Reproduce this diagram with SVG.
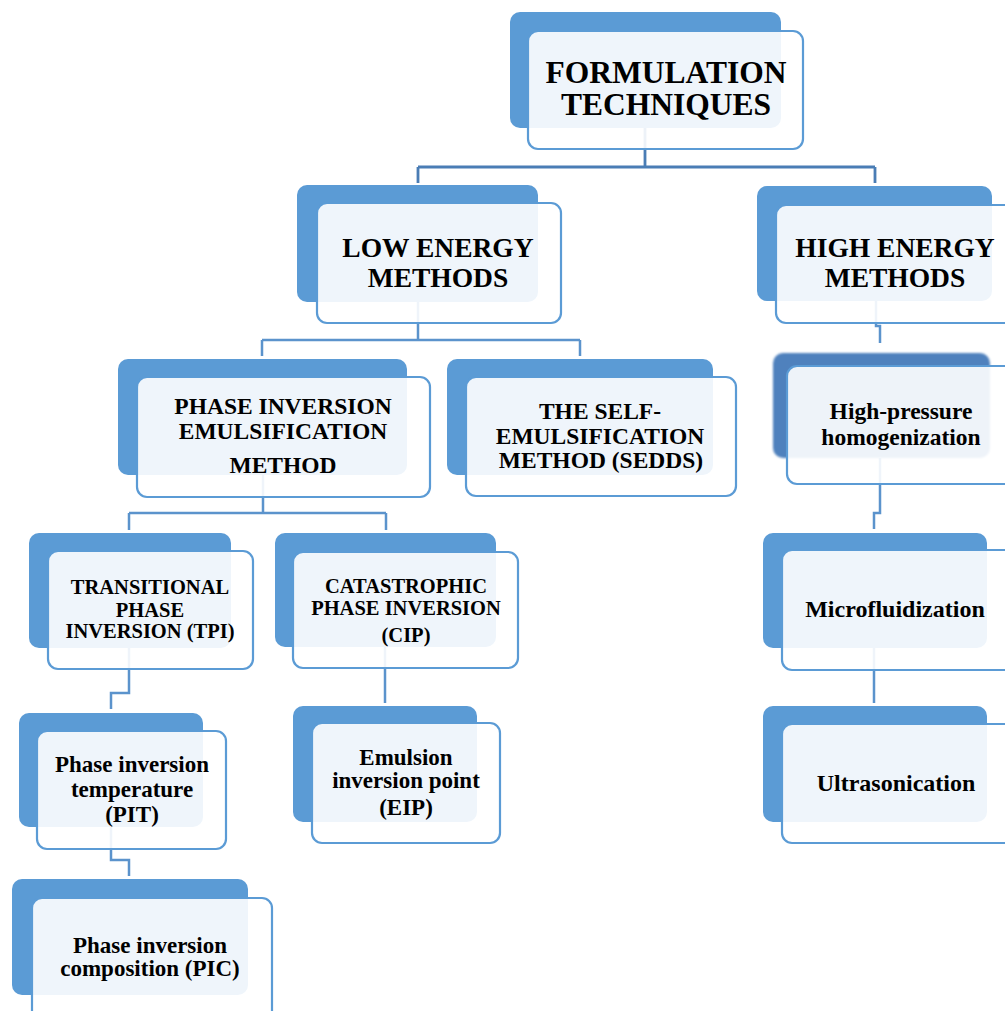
<svg xmlns="http://www.w3.org/2000/svg" width="1005" height="1011" viewBox="0 0 1005 1011">
<defs>
<style>
.bk{fill:#5b9bd5;}
.bk2{fill:#4f81bd;}
.fr{fill:#ffffff;fill-opacity:0.9;stroke:#5b9bd5;stroke-width:2.2;}
.cn{fill:none;stroke:#5b93cc;stroke-width:2.5;}
.cd{fill:none;stroke:#4a7db5;stroke-width:2.8;}
text{font-family:"Liberation Serif","Times New Roman",serif;font-weight:bold;fill:#000;text-anchor:middle;}
.t31{font-size:31.5px;}
.t27{font-size:27.5px;}
.t23{font-size:23.5px;}
.t20{font-size:20.5px;}
.t24{font-size:24px;}
.s23{font-size:23px;}
</style>
<filter id="sh" x="-10%" y="-10%" width="120%" height="120%">
<feGaussianBlur in="SourceGraphic" stdDeviation="1.2"/>
</filter>
</defs>
<rect width="1005" height="1011" fill="#ffffff"/>
<g id="connectors">
<path class="cd" d="M645 128 V167 M418 167 H875 M418 167 V183 M875 167 V183"/>
<path class="cn" d="M418 302 V340 M262 340 H580 M262 340 V356 M580 340 V356"/>
<path class="cn" d="M876 301 V326 H880 V343"/>
<path class="cn" d="M263 475 V513 M129 513 H386 M129 513 V530 M386 513 V530"/>
<path class="cn" d="M880 458 V513 H874 V529"/>
<path class="cn" d="M874 648 V703"/>
<path class="cn" d="M129 648 V693 H111 V709"/>
<path class="cn" d="M385 647 V703"/>
<path class="cn" d="M111 827 V860 H129 V876"/>
</g>
<g id="n-formulation">
<rect class="bk" x="510" y="12" width="271" height="116" rx="10"/>
<rect class="fr" x="528" y="31" width="275" height="118" rx="10"/>
<text class="t31" x="666" y="83">FORMULATION</text>
<text class="t31" x="666" y="115">TECHNIQUES</text>
</g>
<g id="n-low">
<rect class="bk" x="297" y="185" width="241" height="117" rx="10"/>
<rect class="fr" x="317" y="203" width="244" height="120" rx="10"/>
<text class="t27" x="438" y="257">LOW ENERGY</text>
<text class="t27" x="438" y="287">METHODS</text>
</g>
<g id="n-high">
<rect class="bk" x="757" y="186" width="235" height="115" rx="10"/>
<rect class="fr" x="776" y="205" width="240" height="118" rx="10"/>
<text class="t27" x="895" y="257">HIGH ENERGY</text>
<text class="t27" x="895" y="287">METHODS</text>
</g>
<g id="n-phase">
<rect class="bk" x="118" y="359" width="289" height="116" rx="10"/>
<rect class="fr" x="137" y="377" width="293" height="120" rx="10"/>
<text class="t23" x="283" y="414">PHASE INVERSION</text>
<text class="t23" x="283" y="439">EMULSIFICATION</text>
<text class="t23" x="283" y="473">METHOD</text>
</g>
<g id="n-sedds">
<rect class="bk" x="447" y="359" width="266" height="116" rx="10"/>
<rect class="fr" x="466" y="377" width="270" height="119" rx="10"/>
<text class="t23" x="600" y="419">THE SELF-</text>
<text class="t23" x="600" y="444">EMULSIFICATION</text>
<text class="t23" x="601" y="468">METHOD (SEDDS)</text>
</g>
<g id="n-hph">
<rect class="bk2" x="773" y="353" width="217" height="105" rx="10" filter="url(#sh)"/>
<rect class="fr" x="787" y="366" width="230" height="118" rx="10"/>
<text class="t23" x="901" y="419">High-pressure</text>
<text class="t23" x="901" y="445">homogenization</text>
</g>
<g id="n-tpi">
<rect class="bk" x="29" y="533" width="202" height="115" rx="10"/>
<rect class="fr" x="48" y="551" width="205" height="118" rx="10"/>
<text class="t20" x="150" y="594">TRANSITIONAL</text>
<text class="t20" x="150" y="617">PHASE</text>
<text class="t20" x="150" y="638">INVERSION (TPI)</text>
</g>
<g id="n-cip">
<rect class="bk" x="275" y="533" width="221" height="114" rx="10"/>
<rect class="fr" x="293" y="552" width="225" height="116" rx="10"/>
<text class="t20" x="406" y="593">CATASTROPHIC</text>
<text class="t20" x="406" y="615">PHASE INVERSION</text>
<text class="t20" x="406" y="642">(CIP)</text>
</g>
<g id="n-micro">
<rect class="bk" x="763" y="533" width="224" height="115" rx="10"/>
<rect class="fr" x="782" y="550" width="235" height="120" rx="10"/>
<text class="t24" x="895" y="617">Microfluidization</text>
</g>
<g id="n-ultra">
<rect class="bk" x="763" y="706" width="224" height="116" rx="10"/>
<rect class="fr" x="782" y="724" width="235" height="119" rx="10"/>
<text class="t24" x="896" y="791">Ultrasonication</text>
</g>
<g id="n-pit">
<rect class="bk" x="19" y="713" width="184" height="114" rx="10"/>
<rect class="fr" x="37" y="731" width="189" height="118" rx="10"/>
<text class="s23" x="132" y="772">Phase inversion</text>
<text class="s23" x="132" y="797">temperature</text>
<text class="s23" x="132" y="822">(PIT)</text>
</g>
<g id="n-eip">
<rect class="bk" x="293" y="706" width="184" height="116" rx="10"/>
<rect class="fr" x="312" y="723" width="188" height="120" rx="10"/>
<text class="s23" x="406" y="765">Emulsion</text>
<text class="s23" x="406" y="788">inversion point</text>
<text class="s23" x="406" y="815">(EIP)</text>
</g>
<g id="n-pic">
<rect class="bk" x="12" y="879" width="236" height="116" rx="10"/>
<rect class="fr" x="32" y="898" width="240" height="125" rx="10"/>
<text class="s23" x="150" y="953">Phase inversion</text>
<text class="s23" x="150" y="976">composition (PIC)</text>
</g>
</svg>
